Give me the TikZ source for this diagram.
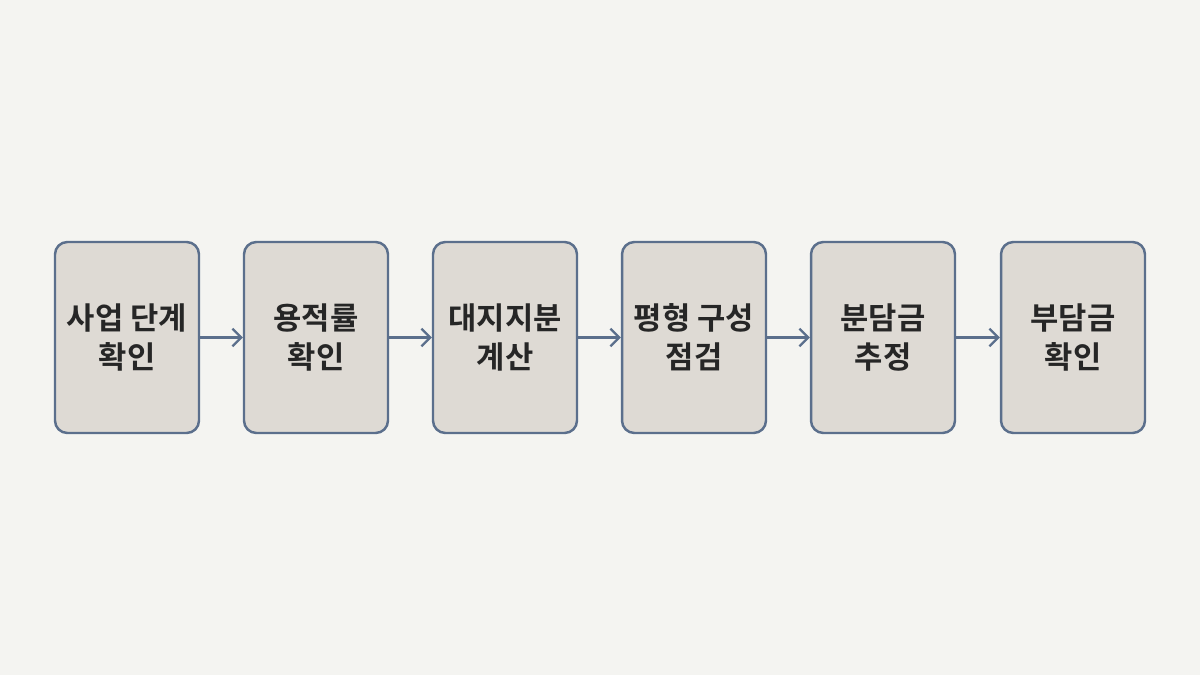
\documentclass[tikz,border=0pt]{standalone}
\usepackage{fontspec}
\newfontfamily\kr{Noto Sans CJK KR}[BoldFont={Noto Sans CJK KR Bold}]
\usetikzlibrary{arrows.meta}
\definecolor{bg}{HTML}{F4F4F1}
\definecolor{boxfill}{HTML}{DEDAD4}
\definecolor{edge}{HTML}{5B6F8C}
\begin{document}
\begin{tikzpicture}[x=0.02cm,y=-0.02cm,
  stepbox/.style={draw=edge,line width=1.4pt,fill=boxfill,rounded corners=7pt,
    minimum width=2.88cm,minimum height=3.82cm,align=center,inner sep=1pt,
    font=\kr\bfseries\fontsize{17.5}{22}\selectfont,text=black!85},
  conn/.style={draw=edge,line width=1.3pt,-{Straight Barb[length=5pt,width=10pt]}}]
\fill[bg] (0,0) rectangle (1200,675);
\useasboundingbox (0,0) rectangle (1200,675);
\node[stepbox] (a) at (127,337.5) {사업 단계\\확인};
\node[stepbox] (b) at (316,337.5) {용적률\\확인};
\node[stepbox] (c) at (505,337.5) {대지지분\\계산};
\node[stepbox] (d) at (694,337.5) {평형 구성\\점검};
\node[stepbox] (e) at (883,337.5) {분담금\\추정};
\node[stepbox] (f) at (1073,337.5) {부담금\\확인};
\draw[conn] (a) -- (b);
\draw[conn] (b) -- (c);
\draw[conn] (c) -- (d);
\draw[conn] (d) -- (e);
\draw[conn] (e) -- (f);
\end{tikzpicture}
\end{document}
